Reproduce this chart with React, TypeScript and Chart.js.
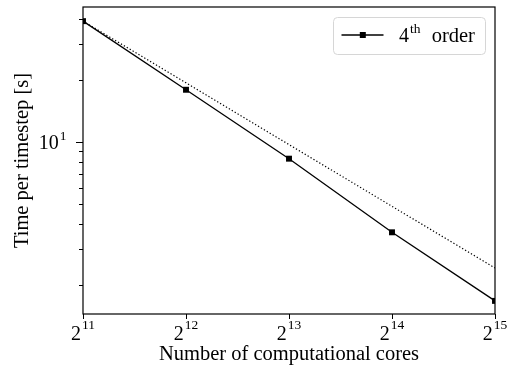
import React, { useEffect, useRef } from "react";
import Chart from "chart.js/auto";

const cores = [2048, 4096, 8192, 16384, 32768];
const coreExponents = ["11", "12", "13", "14", "15"];
const times4th = [38.9, 18.0, 8.3, 3.63, 1.68];
const idealScaling = [38.9, 19.45, 9.725, 4.86, 2.43];
const yMajorTicks = [10];
const yMajorLabels = [["10", "1"]];
const yMinorTicks = [2, 3, 4, 5, 6, 7, 8, 9, 20, 30, 40];
const seriesLabel = ["4", "th", " order"];
const xTitle = "Number of computational cores";
const yTitle = "Time per timestep [s]";

const FONT = '"Liberation Serif", "Times New Roman", serif';

const axesPlugin = {
  id: "mplAxes",
  afterDraw(chart: any) {
    const ctx = chart.ctx as CanvasRenderingContext2D;
    const { left, right, top, bottom } = chart.chartArea;
    const xs = chart.scales.x;
    const ys = chart.scales.y;
    ctx.save();
    ctx.strokeStyle = "#000";
    ctx.fillStyle = "#000";
    // frame
    ctx.lineWidth = 1.2;
    ctx.strokeRect(left, top, right - left, bottom - top);
    // x ticks
    ctx.lineWidth = 1;
    cores.forEach((v, i) => {
      const px = Math.round(xs.getPixelForValue(v)) + 0.5;
      ctx.beginPath();
      ctx.moveTo(px, bottom);
      ctx.lineTo(px, bottom + 5);
      ctx.stroke();
      ctx.font = `20px ${FONT}`;
      const wb = ctx.measureText("2").width;
      ctx.font = `13.5px ${FONT}`;
      const ws = ctx.measureText(coreExponents[i]).width;
      const total = wb + ws + 1;
      const x0 = xs.getPixelForValue(v) - total / 2;
      ctx.textAlign = "left";
      ctx.textBaseline = "alphabetic";
      ctx.font = `20px ${FONT}`;
      ctx.fillText("2", x0, 340);
      ctx.font = `13.5px ${FONT}`;
      ctx.fillText(coreExponents[i], x0 + wb + 1, 328.5);
    });
    // y ticks
    yMinorTicks.forEach((v) => {
      const py = Math.round(ys.getPixelForValue(v)) + 0.5;
      if (py < top || py > bottom) return;
      ctx.beginPath();
      ctx.moveTo(left, py);
      ctx.lineTo(left - 4, py);
      ctx.stroke();
    });
    yMajorTicks.forEach((v, i) => {
      const py = Math.round(ys.getPixelForValue(v)) + 0.5;
      ctx.beginPath();
      ctx.moveTo(left, py);
      ctx.lineTo(left - 7, py);
      ctx.stroke();
      const [base, sup] = yMajorLabels[i];
      ctx.font = `13.5px ${FONT}`;
      const ws = ctx.measureText(sup).width;
      ctx.textAlign = "right";
      ctx.fillText(sup, 66.5, py - 2.5);
      ctx.font = `20px ${FONT}`;
      ctx.fillText(base, 66.5 - ws - 1, py + 6.8);
    });
    // titles
    ctx.font = `20.5px ${FONT}`;
    ctx.textAlign = "center";
    ctx.textBaseline = "alphabetic";
    ctx.fillText(xTitle, (left + right) / 2, 360);
    ctx.save();
    ctx.translate(28, (top + bottom) / 2);
    ctx.rotate(-Math.PI / 2);
    ctx.fillText(yTitle, 0, 0);
    ctx.restore();
    // legend
    const lx = 333.5, ly = 17.5, lw = 152, lh = 37;
    ctx.beginPath();
    (ctx as any).roundRect(lx, ly, lw, lh, 4);
    ctx.fillStyle = "rgba(255,255,255,0.85)";
    ctx.fill();
    ctx.strokeStyle = "#d6d6d6";
    ctx.lineWidth = 1;
    ctx.stroke();
    ctx.strokeStyle = "#000";
    ctx.fillStyle = "#000";
    ctx.lineWidth = 1.3;
    ctx.beginPath();
    ctx.moveTo(341.5, 35);
    ctx.lineTo(383.5, 35);
    ctx.stroke();
    ctx.fillRect(359.8, 32, 6, 6);
    ctx.textAlign = "left";
    ctx.font = `20px ${FONT}`;
    ctx.fillText(seriesLabel[0], 399, 41.7);
    const w4 = ctx.measureText(seriesLabel[0]).width;
    ctx.font = `13.5px ${FONT}`;
    ctx.fillText(seriesLabel[1], 399 + w4 + 1, 33);
    ctx.font = `20.5px ${FONT}`;
    ctx.fillText(seriesLabel[2], 426.5, 41.7);
    ctx.restore();
  },
};

export default function App() {
  const ref = useRef<HTMLCanvasElement | null>(null);
  useEffect(() => {
    if (!ref.current) return;
    const chart = new Chart(ref.current, {
      type: "line",
      data: {
        datasets: [
          {
            label: "ideal",
            data: cores.map((c, i) => ({ x: c, y: idealScaling[i] })),
            borderColor: "#000",
            borderWidth: 1.2,
            borderDash: [1.3, 2.1],
            pointRadius: 0,
            fill: false,
            tension: 0,
            clip: 0,
          },
          {
            label: "4th order",
            data: cores.map((c, i) => ({ x: c, y: times4th[i] })),
            borderColor: "#000",
            backgroundColor: "#000",
            borderWidth: 1.3,
            pointStyle: "rect",
            pointRadius: 4.2,
            pointBorderWidth: 0,
            pointBackgroundColor: "#000",
            fill: false,
            tension: 0,
            clip: 0,
          },
        ],
      },
      options: {
        responsive: false,
        animation: false,
        devicePixelRatio: 1,
        layout: { padding: { left: 83, right: 12, top: 7, bottom: 60 } },
        plugins: { legend: { display: false }, tooltip: { enabled: false } },
        scales: {
          x: { type: "logarithmic", min: 2048, max: 32768, display: false },
          y: { type: "logarithmic", min: 1.45, max: 45.6, display: false },
        },
      },
      plugins: [axesPlugin],
    } as any);
    return () => chart.destroy();
  }, []);
  return (
    <div style={{ position: "fixed", left: 0, top: 0, width: 507, height: 374, background: "#fff" }}>
      <canvas ref={ref} width={507} height={374} style={{ width: 507, height: 374 }} />
    </div>
  );
}
